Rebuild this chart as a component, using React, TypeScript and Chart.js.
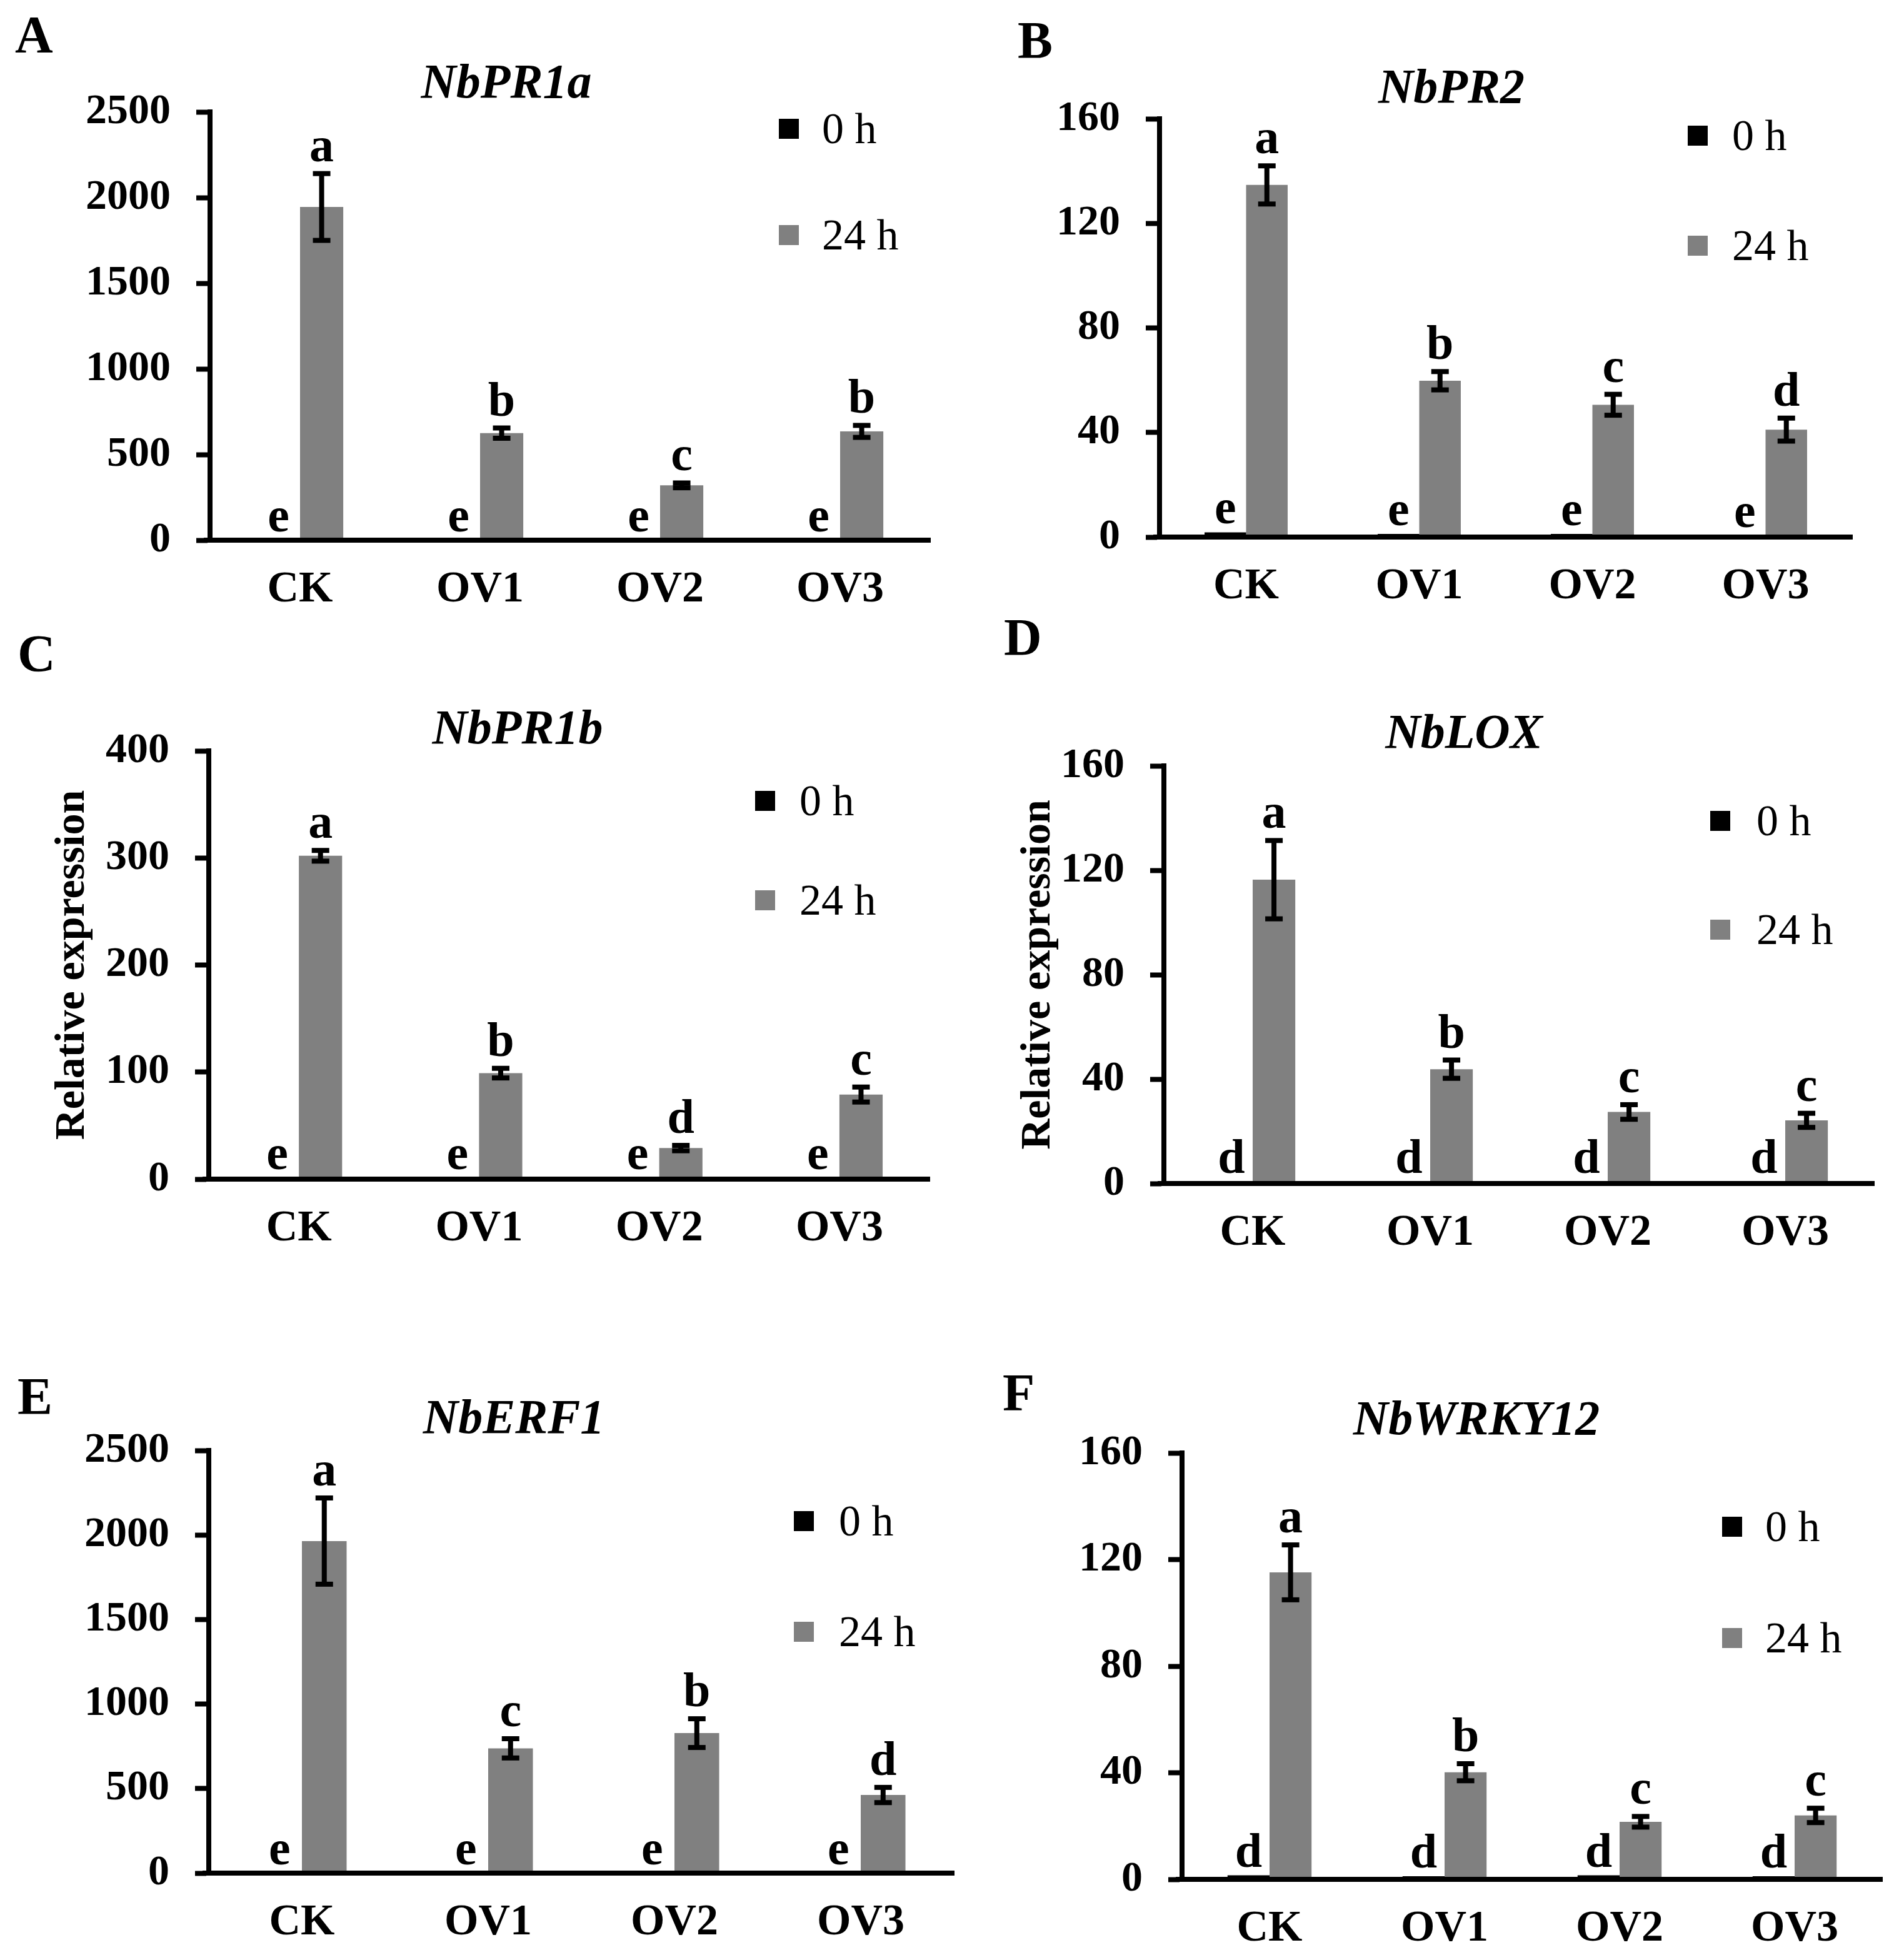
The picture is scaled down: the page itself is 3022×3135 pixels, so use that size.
import React, { useEffect, useRef } from 'react';
import { Chart, registerables } from 'chart.js';

Chart.register(...registerables);

// ---------- data ----------
const categories = ['CK', 'OV1', 'OV2', 'OV3'];
const seriesLabels = ['0 h', '24 h'];
const seriesColors = ['#000000', '#808080'];

// A  NbPR1a
const prA_title = 'NbPR1a';
const prA_0h = [1, 1, 1, 1];
const prA_24h = [1945, 625, 320, 635];
const prA_24hErr = [195, 30, 14, 35];
const prA_sig0h = ['e', 'e', 'e', 'e'];
const prA_sig24h = ['a', 'b', 'c', 'b'];
const prA_ticks = { max: 2500, step: 500 };

// B  NbPR2
const prB_title = 'NbPR2';
const prB_0h = [1.8, 1.2, 1.2, 0.5];
const prB_24h = [134.7, 59.8, 50.6, 41.1];
const prB_24hErr = [7.3, 3.5, 4, 4.4];
const prB_sig0h = ['e', 'e', 'e', 'e'];
const prB_sig24h = ['a', 'b', 'c', 'd'];
const prB_ticks = { max: 160, step: 40 };

// C  NbPR1b
const prC_title = 'NbPR1b';
const prC_0h = [1, 1, 1, 1];
const prC_24h = [302, 99, 29, 79];
const prC_24hErr = [5, 4.5, 2.5, 7];
const prC_sig0h = ['e', 'e', 'e', 'e'];
const prC_sig24h = ['a', 'b', 'd', 'c'];
const prC_ticks = { max: 400, step: 100 };

// D  NbLOX
const prD_title = 'NbLOX';
const prD_0h = [0.8, 0.8, 0.8, 0.8];
const prD_24h = [116.4, 43.8, 27.4, 24.2];
const prD_24hErr = [15, 3.5, 2.8, 2.7];
const prD_sig0h = ['d', 'd', 'd', 'd'];
const prD_sig24h = ['a', 'b', 'c', 'c'];
const prD_ticks = { max: 160, step: 40 };

// E  NbERF1
const prE_title = 'NbERF1';
const prE_0h = [1, 1, 1, 1];
const prE_24h = [1964, 738, 828, 462];
const prE_24hErr = [255, 57, 85, 45];
const prE_sig0h = ['e', 'e', 'e', 'e'];
const prE_sig24h = ['a', 'c', 'b', 'd'];
const prE_ticks = { max: 2500, step: 500 };

// F  NbWRKY12
const prF_title = 'NbWRKY12';
const prF_0h = [1.5, 1.2, 1.5, 1.2];
const prF_24h = [115.2, 40.2, 21.6, 24];
const prF_24hErr = [10.3, 3.2, 2, 2.7];
const prF_sig0h = ['d', 'd', 'd', 'd'];
const prF_sig24h = ['a', 'b', 'c', 'c'];
const prF_ticks = { max: 160, step: 40 };

const yAxisTitle = 'Relative expression';

// ---------- layout (page pixel coordinates) ----------
const FONT = "'Liberation Serif', 'Times New Roman', Times, serif";

type Panel = {
  letter: string;
  title: string;
  v0: number[];
  v24: number[];
  e24: number[];
  s0: string[];
  s24: string[];
  ticks: { max: number; step: number };
  yTitle?: string;
  box: { x: number; y: number; w: number; h: number };
  area: { L: number; R: number; T: number; B: number };
  letterPos: { x: number; y: number };
  titlePos: { x: number; y: number };
  legend: { x: number; y0: number; y1: number; tx: number };
  yTitleX?: number;
};

const panels: Panel[] = [
  {
    letter: 'A', title: prA_title, v0: prA_0h, v24: prA_24h, e24: prA_24hErr,
    s0: prA_sig0h, s24: prA_sig24h, ticks: prA_ticks,
    box: { x: 0, y: 0, w: 1560, h: 990 },
    area: { L: 336, R: 1488, T: 179, B: 864 },
    letterPos: { x: 24, y: 84 }, titlePos: { x: 810, y: 130 },
    legend: { x: 1246, y0: 206, y1: 376, tx: 1315 },
  },
  {
    letter: 'B', title: prB_title, v0: prB_0h, v24: prB_24h, e24: prB_24hErr,
    s0: prB_sig0h, s24: prB_sig24h, ticks: prB_ticks,
    box: { x: 1560, y: 0, w: 1462, h: 990 },
    area: { L: 1855, R: 2963, T: 190, B: 859 },
    letterPos: { x: 1628, y: 93 }, titlePos: { x: 2322, y: 138 },
    legend: { x: 2700, y0: 217, y1: 393, tx: 2771 },
  },
  {
    letter: 'C', title: prC_title, v0: prC_0h, v24: prC_24h, e24: prC_24hErr,
    s0: prC_sig0h, s24: prC_sig24h, ticks: prC_ticks, yTitle: yAxisTitle,
    box: { x: 0, y: 990, w: 1560, h: 1130 },
    area: { L: 334, R: 1487, T: 1201, B: 1886 },
    letterPos: { x: 28, y: 1074 }, titlePos: { x: 828, y: 1163 },
    legend: { x: 1208, y0: 1281, y1: 1440, tx: 1279 }, yTitleX: 116,
  },
  {
    letter: 'D', title: prD_title, v0: prD_0h, v24: prD_24h, e24: prD_24hErr,
    s0: prD_sig0h, s24: prD_sig24h, ticks: prD_ticks, yTitle: yAxisTitle,
    box: { x: 1560, y: 990, w: 1462, h: 1130 },
    area: { L: 1862, R: 2998, T: 1225, B: 1893 },
    letterPos: { x: 1606, y: 1048 }, titlePos: { x: 2342, y: 1170 },
    legend: { x: 2736, y0: 1313, y1: 1487, tx: 2810 }, yTitleX: 1661,
  },
  {
    letter: 'E', title: prE_title, v0: prE_0h, v24: prE_24h, e24: prE_24hErr,
    s0: prE_sig0h, s24: prE_sig24h, ticks: prE_ticks,
    box: { x: 0, y: 2120, w: 1560, h: 1015 },
    area: { L: 334, R: 1526, T: 2320, B: 2996 },
    letterPos: { x: 28, y: 2262 }, titlePos: { x: 822, y: 2266 },
    legend: { x: 1270, y0: 2433, y1: 2610, tx: 1342 },
  },
  {
    letter: 'F', title: prF_title, v0: prF_0h, v24: prF_24h, e24: prF_24hErr,
    s0: prF_sig0h, s24: prF_sig24h, ticks: prF_ticks,
    box: { x: 1560, y: 2120, w: 1462, h: 1015 },
    area: { L: 1891, R: 3011, T: 2324, B: 3006 },
    letterPos: { x: 1604, y: 2256 }, titlePos: { x: 2362, y: 2268 },
    legend: { x: 2755, y0: 2442, y1: 2620, tx: 2824 },
  },
];

// ---------- decoration plugin ----------
const decorPlugin = {
  id: 'decor',
  afterDraw(chart: any, _args: any, opts: any) {
    const p: Panel = opts.panel;
    if (!p) return;
    const ctx = chart.ctx;
    const ox = p.box.x;
    const oy = p.box.y;
    const yScale = chart.scales.y;
    const area = chart.chartArea;
    ctx.save();
    ctx.fillStyle = '#000';

    // close the axis corner
    ctx.fillRect(area.left - 10, area.bottom - 4, 14, 8);

    // error bars on 24 h series
    const meta24 = chart.getDatasetMeta(1);
    meta24.data.forEach((el: any, i: number) => {
      const v = p.v24[i];
      const e = p.e24[i] || 0;
      if (!e) return;
      const yt = yScale.getPixelForValue(v + e);
      const yb = yScale.getPixelForValue(v - e);
      ctx.fillRect(el.x - 4, yt, 8, yb - yt);
      ctx.fillRect(el.x - 14, yt - 4, 28, 8);
      ctx.fillRect(el.x - 14, yb - 4, 28, 8);
    });

    // significance letters
    ctx.font = `bold 78px ${FONT}`;
    ctx.textAlign = 'center';
    ctx.textBaseline = 'alphabetic';
    const sigs = [p.s0, p.s24];
    const vals = [p.v0, p.v24];
    const errs = [p.v0.map(() => 0), p.e24];
    [0, 1].forEach((d) => {
      const meta = chart.getDatasetMeta(d);
      meta.data.forEach((el: any, i: number) => {
        const top = vals[d][i] + (errs[d][i] || 0);
        const y = yScale.getPixelForValue(top) - (d === 0 ? 14 : 20);
        ctx.fillText(sigs[d][i], el.x, y);
      });
    });

    // panel letter
    ctx.textAlign = 'left';
    ctx.font = `bold 84px ${FONT}`;
    ctx.fillText(p.letter, p.letterPos.x - ox, p.letterPos.y - oy);

    // gene title
    ctx.textAlign = 'center';
    ctx.font = `italic bold 78px ${FONT}`;
    ctx.fillText(p.title, p.titlePos.x - ox, p.titlePos.y - oy + 26);

    // legend
    ctx.textAlign = 'left';
    ctx.font = `70px ${FONT}`;
    const ys = [p.legend.y0, p.legend.y1];
    chart.data.datasets.forEach((ds: any, i: number) => {
      ctx.fillStyle = ds.backgroundColor;
      ctx.fillRect(p.legend.x - ox, ys[i] - oy - 16, 32, 32);
      ctx.fillStyle = '#000';
      ctx.fillText(ds.label, p.legend.tx - ox, ys[i] - oy + 23);
    });
    ctx.restore();
  },
};

function PanelChart({ p }: { p: Panel }) {
  const ref = useRef<HTMLCanvasElement>(null);
  useEffect(() => {
    const canvas = ref.current;
    if (!canvas) return;
    const { x, y, w, h } = p.box;
    const yw = p.area.L - x;
    const xh = y + h - p.area.B;
    const chart = new Chart(canvas, {
      type: 'bar',
      data: {
        labels: categories,
        datasets: [
          { label: seriesLabels[0], data: p.v0, backgroundColor: seriesColors[0], categoryPercentage: 0.48, barPercentage: 1 },
          { label: seriesLabels[1], data: p.v24, backgroundColor: seriesColors[1], categoryPercentage: 0.48, barPercentage: 1 },
        ],
      },
      options: {
        animation: false,
        responsive: false,
        devicePixelRatio: 1,
        layout: { padding: { left: 0, top: p.area.T - y, right: x + w - p.area.R, bottom: 0 } },
        plugins: {
          legend: { display: false },
          title: { display: false },
          tooltip: { enabled: false },
          decor: { panel: p },
        } as any,
        scales: {
          x: {
            offset: true,
            grid: { display: false, drawTicks: false },
            border: { display: true, width: 8, color: '#000', z: 1 } as any,
            ticks: {
              color: '#000',
              font: { family: FONT, size: 70, weight: 'bold' },
              padding: 38,
              maxRotation: 0,
              autoSkip: false,
            },
            afterFit: (s: any) => { s.height = xh; },
          },
          y: {
            min: 0,
            max: p.ticks.max,
            ticks: {
              stepSize: p.ticks.step,
              color: '#000',
              font: { family: FONT, size: 68, weight: 'bold' },
              padding: 41,
              callback: (v: any) => String(v),
            },
            grid: {
              display: true,
              drawOnChartArea: false,
              drawTicks: true,
              tickLength: 22,
              tickWidth: 8,
              tickColor: '#000',
            },
            border: { display: true, width: 8, color: '#000', z: 1 } as any,
            title: p.yTitle
              ? {
                  display: true,
                  text: p.yTitle,
                  color: '#000',
                  font: { family: FONT, size: 68, weight: 'bold' },
                  padding: { top: (p.yTitleX || 0) - x - 40.8, bottom: 0 },
                }
              : { display: false },
            afterFit: (s: any) => { s.width = yw; },
          },
        },
      },
      plugins: [decorPlugin as any],
    });
    return () => chart.destroy();
  }, [p]);
  return (
    <canvas
      ref={ref}
      width={p.box.w}
      height={p.box.h}
      style={{ position: 'absolute', left: p.box.x, top: p.box.y, width: p.box.w, height: p.box.h }}
    />
  );
}

export default function App() {
  return (
    <div style={{ position: 'absolute', left: 0, top: 0, width: 3022, height: 3135, background: '#fff' }}>
      {panels.map((p) => (
        <PanelChart key={p.letter} p={p} />
      ))}
    </div>
  );
}
